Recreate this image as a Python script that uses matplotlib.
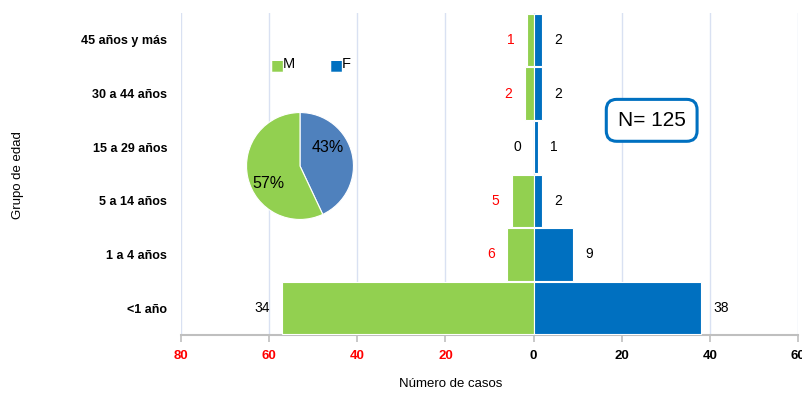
import matplotlib.pyplot as plt

groups = ["45 años y más", "30 a 44 años", "15 a 29 años", "5 a 14 años", "1 a 4 años", "<1 año"]
m_bars = [1.4, 2, 0, 5, 6, 57]
m_labels = ["1", "2", "0", "5", "6", "34"]
m_label_colors = ["red", "red", "black", "red", "red", "black"]
f_bars = [2, 2, 1, 2, 9, 38]
f_labels = ["2", "2", "1", "2", "9", "38"]
pie_values = [43, 57]
x_ticks = [-80, -60, -40, -20, 0, 20, 40, 60]
x_ticklabels = ["80", "60", "40", "20", "0", "20", "40", "60"]

GREEN = "#92D050"
BLUE = "#0070C0"
PIE_BLUE = "#4F81BD"
SANS = ["Liberation Sans", "DejaVu Sans"]

plt.rcParams["font.family"] = SANS

fig = plt.figure(figsize=(8.03, 3.95), dpi=100)
ax = fig.add_axes([181 / 803, 60 / 395, 617 / 803, 322 / 395])

y = list(range(len(groups)))
ax.barh(y, [-v for v in m_bars], height=0.97, color=GREEN, edgecolor="white", linewidth=0.8, zorder=3)
ax.barh(y, f_bars, height=0.97, color=BLUE, edgecolor="white", linewidth=0.8, zorder=3)

for i in y:
    ax.text(-m_bars[i] - 2.8, i, m_labels[i], ha="right", va="center", fontsize=10, color=m_label_colors[i])
    ax.text(f_bars[i] + 2.8, i, f_labels[i], ha="left", va="center", fontsize=10, color="black")

ax.set_xlim(-80, 60)
ax.set_ylim(len(groups) - 0.5, -0.5)
ax.set_yticks(y)
ax.set_yticklabels(groups, fontsize=9, fontweight="bold")
ax.tick_params(axis="y", length=0, pad=10)
ax.set_xticks(x_ticks)
ax.set_xticklabels(x_ticklabels, fontsize=9.5, fontweight="bold")
for lbl, v in zip(ax.get_xticklabels(), x_ticks):
    lbl.set_color("red" if v < 0 else "black")
ax.tick_params(axis="x", length=5, color="#BFBFBF", width=1.2, pad=6)

ax.grid(axis="x", color="#D9E1F2", linewidth=1, zorder=0)
for s in ["top", "right", "left"]:
    ax.spines[s].set_visible(False)
ax.spines["bottom"].set_color("#BFBFBF")
ax.spines["bottom"].set_linewidth(1.5)

fig.text(451 / 803, 1 - 384 / 395, "Número de casos", ha="center", va="center", fontsize=9.5)
fig.text(18 / 803, 1 - 175 / 395, "Grupo de edad", rotation=90, ha="center", va="center", fontsize=9.5)

# N box
ax.text(26.8, 1.5, "N= 125", ha="center", va="center", fontsize=15, zorder=5,
        bbox=dict(boxstyle="round,pad=0.55,rounding_size=0.5", fc="white", ec=BLUE, lw=2.2))

# legend
fig.text(271 / 803, 1 - 65 / 395, "■", color=GREEN, fontsize=10, ha="left", va="center", family="DejaVu Sans")
fig.text(283 / 803, 1 - 64 / 395, "M", fontsize=10.5, ha="left", va="center")
fig.text(330 / 803, 1 - 65 / 395, "■", color=BLUE, fontsize=10, ha="left", va="center", family="DejaVu Sans")
fig.text(342 / 803, 1 - 64 / 395, "F", fontsize=10.5, ha="left", va="center")

# pie inset
pax = fig.add_axes([246 / 803, 1 - 220 / 395, 108 / 803, 108 / 395])
pax.pie(pie_values, colors=[PIE_BLUE, GREEN], startangle=90, counterclock=False,
        wedgeprops=dict(edgecolor="white", linewidth=0.8))
pax.set_xlim(-1.01, 1.01)
pax.set_ylim(-1.01, 1.01)
pax.set_aspect("equal")
pax.text(0.52, 0.34, "43%", ha="center", va="center", fontsize=11.5)
pax.text(-0.59, -0.32, "57%", ha="center", va="center", fontsize=11.5)

fig.savefig("out.png", dpi=100)
